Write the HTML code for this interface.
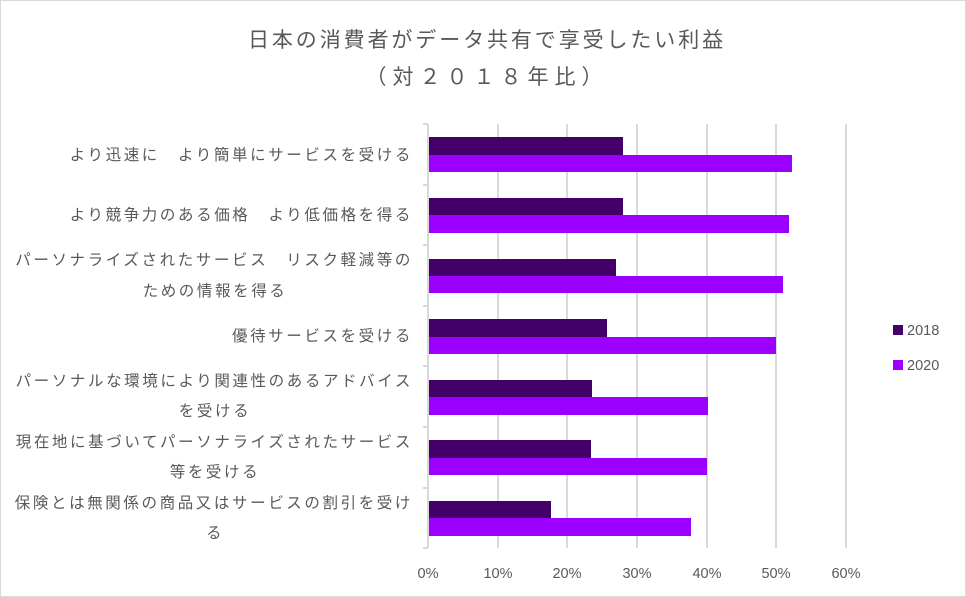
<!DOCTYPE html><html><head><meta charset="utf-8"><style>body{margin:0;background:#fff}svg{display:block}text{font-family:"Liberation Sans","Noto Sans CJK JP",sans-serif;fill:#595959}</style></head><body>
<svg width="966" height="597" xmlns="http://www.w3.org/2000/svg">
<rect x="0.5" y="0.5" width="965" height="596" fill="#fff" stroke="#d9d9d9"/>
<text x="487" y="47" font-size="21" text-anchor="middle" letter-spacing="2.9">日本の消費者がデータ共有で享受したい利益</text>
<text x="487" y="84" font-size="21" text-anchor="middle" letter-spacing="6">（対２０１８年比）</text>
<g stroke="#d9d9d9" stroke-width="2">
<line x1="498" y1="124" x2="498" y2="548"/><line x1="567" y1="124" x2="567" y2="548"/><line x1="637" y1="124" x2="637" y2="548"/><line x1="707" y1="124" x2="707" y2="548"/><line x1="776" y1="124" x2="776" y2="548"/><line x1="846" y1="124" x2="846" y2="548"/>
<line x1="428" y1="124" x2="428" y2="548"/>
<line x1="423" y1="124" x2="428" y2="124"/><line x1="423" y1="185" x2="428" y2="185"/><line x1="423" y1="245" x2="428" y2="245"/><line x1="423" y1="306" x2="428" y2="306"/><line x1="423" y1="366" x2="428" y2="366"/><line x1="423" y1="427" x2="428" y2="427"/><line x1="423" y1="488" x2="428" y2="488"/><line x1="423" y1="548" x2="428" y2="548"/>
</g>
<g fill="#440069">
<rect x="429" y="137" width="194" height="18"/><rect x="429" y="198" width="194" height="17"/><rect x="429" y="259" width="187" height="17"/><rect x="429" y="319" width="178" height="18"/><rect x="429" y="380" width="163" height="17"/><rect x="429" y="440" width="162" height="18"/><rect x="429" y="501" width="122" height="17"/>
</g>
<g fill="#9b00ff">
<rect x="429" y="155" width="363" height="17"/><rect x="429" y="215" width="360" height="18"/><rect x="429" y="276" width="354" height="17"/><rect x="429" y="337" width="347" height="17"/><rect x="429" y="397" width="279" height="18"/><rect x="429" y="458" width="278" height="17"/><rect x="429" y="518" width="262" height="18"/>
</g>
<g font-size="15.5" text-anchor="end" letter-spacing="2.6">
<text x="413" y="160">より迅速に　より簡単にサービスを受ける</text>
<text x="413" y="220">より競争力のある価格　より低価格を得る</text>
<text x="413" y="265">パーソナライズされたサービス　リスク軽減等の</text>
<text x="215" y="296" text-anchor="middle">ための情報を得る</text>
<text x="413" y="341">優待サービスを受ける</text>
<text x="413" y="386">パーソナルな環境により関連性のあるアドバイス</text>
<text x="215" y="416" text-anchor="middle">を受ける</text>
<text x="413" y="447">現在地に基づいてパーソナライズされたサービス</text>
<text x="215" y="477" text-anchor="middle">等を受ける</text>
<text x="413" y="508">保険とは無関係の商品又はサービスの割引を受け</text>
<text x="215" y="538" text-anchor="middle">る</text>
</g>
<g font-size="14.5" text-anchor="middle">
<text x="428" y="578">0%</text><text x="498" y="578">10%</text><text x="567" y="578">20%</text><text x="637" y="578">30%</text><text x="707" y="578">40%</text><text x="776" y="578">50%</text><text x="846" y="578">60%</text>
</g>
<rect x="893" y="325" width="10" height="10" fill="#440069"/>
<text x="907" y="335" font-size="14.5">2018</text>
<rect x="893" y="360" width="10" height="10" fill="#9b00ff"/>
<text x="907" y="370" font-size="14.5">2020</text>
</svg></body></html>
